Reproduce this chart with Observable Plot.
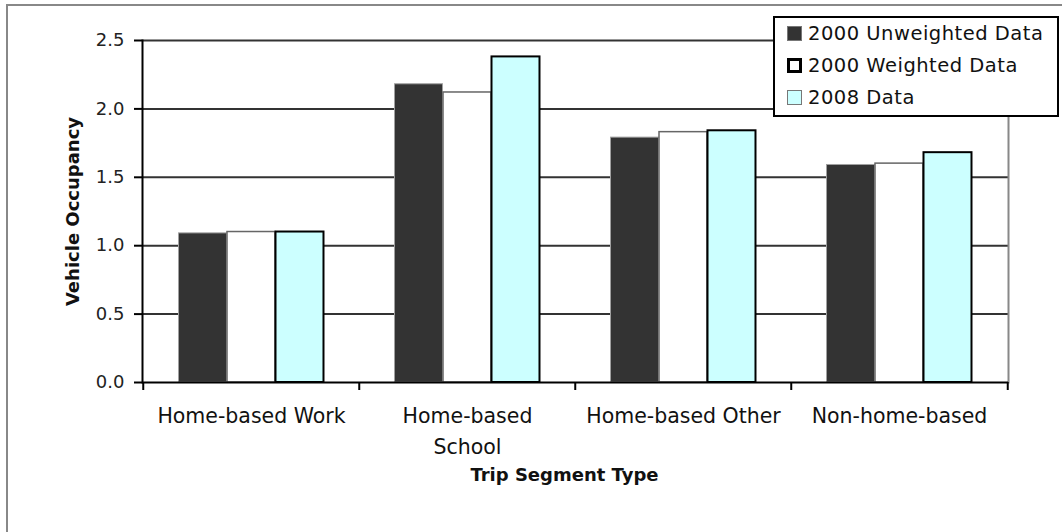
<!DOCTYPE html>
<html>
<head>
<meta charset="utf-8">
<script src="https://cdn.jsdelivr.net/npm/d3@7"></script>
<script src="https://cdn.jsdelivr.net/npm/@observablehq/plot@0.6"></script>
<style>
  html, body { margin: 0; padding: 0; background: #fff; overflow: hidden; }
  #wrap { position: relative; width: 1062px; height: 532px; font-family: "DejaVu Sans", sans-serif; }
  #wrap svg { position: absolute; left: 0; top: 0; }
  #outline { position: absolute; left: 6px; top: 4px; width: 1200px; height: 700px;
             border-left: 2px solid #888; border-top: 2px solid #888; pointer-events: none; }
  #legend { position: absolute; left: 773px; top: 16px; width: 282px; height: 97px;
            border: 2px solid #000; background: #fff; }
  .item { position: absolute; left: 12px; height: 24px; display: flex; align-items: center;
          font-size: 19.5px; letter-spacing: 0.5px; color: #111; white-space: nowrap; }
  .sw { width: 15px; height: 15px; box-sizing: border-box; margin-right: 6px; flex: none; }
</style>
</head>
<body>
<div id="wrap"></div>
<script>
// Average vehicle occupancy by trip segment type
const categories = ["Home-based Work", "Home-based School", "Home-based Other", "Non-home-based"];
const categoryLabels = ["Home-based Work", "Home-based\nSchool", "Home-based Other", "Non-home-based"];
const seriesNames = ["2000 Unweighted Data", "2000 Weighted Data", "2008 Data"];
const unweighted2000 = [1.09, 2.18, 1.79, 1.59];
const weighted2000 = [1.10, 2.12, 1.83, 1.60];
const data2008 = [1.10, 2.38, 1.84, 1.68];
const yTicks = [0, 0.5, 1.0, 1.5, 2.0, 2.5];

// Series appearance
const seriesStyle = [
  {fill: "#333333", stroke: "#a0a0a0", strokeWidth: 1},
  {fill: "#ffffff", stroke: "#666666", strokeWidth: 1.5},
  {fill: "#ccffff", stroke: "#000000", strokeWidth: 2}
];
const legendSwatch = [
  "background:#333333;border:1px solid #777;",
  "background:#ffffff;border:3px solid #000;",
  "background:#ccffff;border:1px solid #777;"
];

const W = 1062, H = 532;
const mL = 142, mR = 54, mT = 40, mB = 150;
const bandW = (W - mL - mR) / categories.length;
const gap = bandW * 0.164;
const barW = (bandW - 2 * gap) / seriesNames.length;

const seriesValues = [unweighted2000, weighted2000, data2008];
const barMarks = seriesValues.map((vals, s) =>
  Plot.barY(categories.map((c, i) => ({category: c, value: vals[i], series: seriesNames[s]})), {
    x: "category",
    y: "value",
    fill: seriesStyle[s].fill,
    stroke: seriesStyle[s].stroke,
    strokeWidth: seriesStyle[s].strokeWidth,
    insetLeft: gap + s * barW,
    insetRight: gap + (seriesNames.length - 1 - s) * barW
  })
);

const chart = Plot.plot({
  width: W,
  height: H,
  marginLeft: mL,
  marginRight: mR,
  marginTop: mT,
  marginBottom: mB,
  style: {fontFamily: "DejaVu Sans, sans-serif", fontSize: "18px", background: "transparent", color: "#000", overflow: "visible"},
  x: {domain: categories, padding: 0},
  y: {domain: [0, 2.5]},
  marks: [
    Plot.ruleY(yTicks.slice(1), {stroke: "#333", strokeWidth: 2}),
    Plot.frame({anchor: "right", stroke: "#888", strokeWidth: 2}),
    ...barMarks,
    Plot.frame({anchor: "left", stroke: "#000", strokeWidth: 2}),
    Plot.ruleY([0], {stroke: "#000", strokeWidth: 2}),
    Plot.axisY({ticks: yTicks, tickFormat: d3.format(".1f"), tickSize: 8, tickPadding: 10,
                fontSize: 18, fill: "#222", stroke: "#000", strokeWidth: 2, label: null}),
    // boundary ticks between categories
    Plot.axisX({ticks: categories, tickSize: 8, dx: -bandW / 2, fill: "none", strokeWidth: 2, label: null}),
    Plot.axisX({ticks: categories.slice(-1), tickSize: 8, dx: bandW / 2, fill: "none", strokeWidth: 2, label: null}),
    Plot.text(categories, {
      x: d => d,
      frameAnchor: "bottom",
      text: (d, i) => categoryLabels[i],
      lineAnchor: "top",
      lineHeight: 1.5,
      dy: 19,
      fontSize: 20.5,
      fill: "#111"
    }),
    Plot.text(["Trip Segment Type"], {
      frameAnchor: "bottom",
      lineAnchor: "top",
      dx: -11,
      dy: 86,
      fontSize: 18,
      fontWeight: "bold",
      fill: "#111"
    }),
    Plot.text(["Vehicle Occupancy"], {
      frameAnchor: "left",
      textAnchor: "middle",
      rotate: -90,
      lineAnchor: "middle",
      dx: -69,
      fontSize: 18,
      fontWeight: "bold",
      fill: "#111"
    })
  ]
});

const wrap = document.getElementById("wrap");
wrap.appendChild(chart);

const outline = document.createElement("div");
outline.id = "outline";
wrap.appendChild(outline);

const legend = document.createElement("div");
legend.id = "legend";
seriesNames.forEach((name, i) => {
  const item = document.createElement("div");
  item.className = "item";
  item.style.top = (3 + i * 32) + "px";
  const sw = document.createElement("span");
  sw.className = "sw";
  sw.style.cssText = legendSwatch[i];
  const label = document.createElement("span");
  label.textContent = name;
  item.appendChild(sw);
  item.appendChild(label);
  legend.appendChild(item);
});
wrap.appendChild(legend);
</script>
</body>
</html>
